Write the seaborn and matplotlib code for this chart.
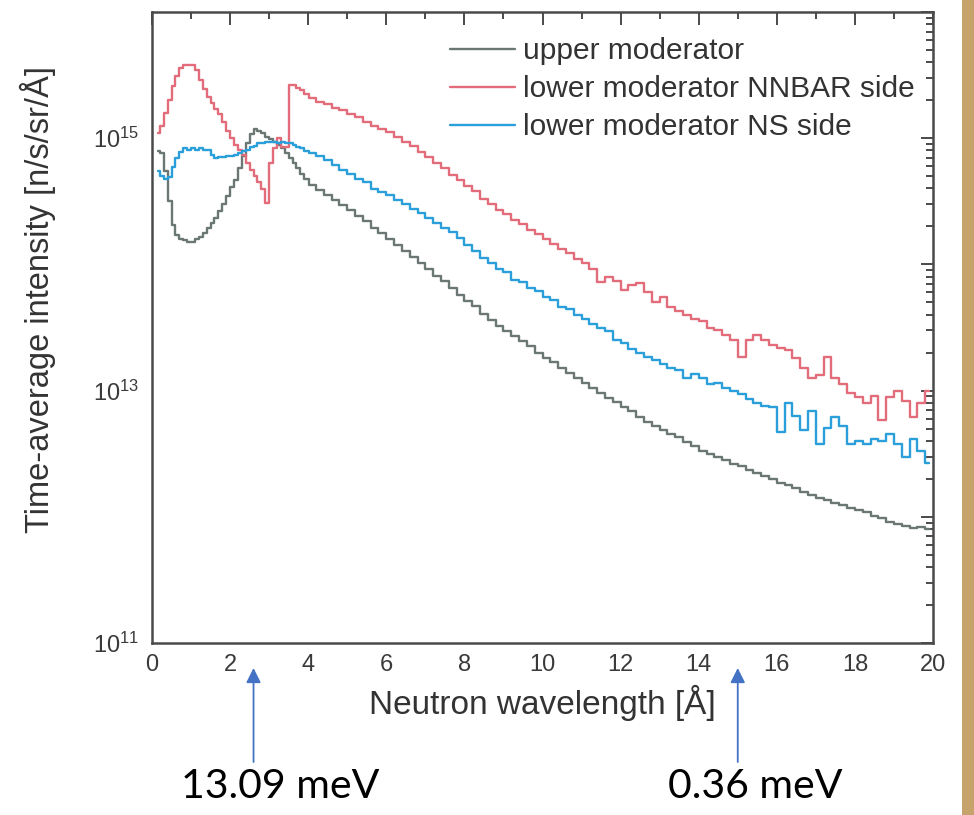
import numpy as np
import pandas as pd
import matplotlib
matplotlib.use("Agg")
import matplotlib.pyplot as plt
import matplotlib.ticker as mticker
from matplotlib.patches import Rectangle
import seaborn as sns

# ---------------- data (log10 of intensity) ----------------
wavelength = [0.15, 0.25, 0.35, 0.45, 0.55, 0.65, 0.75, 0.85, 0.95, 1.05,
              1.15, 1.25, 1.35, 1.45, 1.55, 1.65, 1.75, 1.85, 1.95, 2.05,
              2.15, 2.25, 2.35, 2.45, 2.55, 2.65, 2.75, 2.85, 2.95, 3.05,
              3.15, 3.25, 3.35, 3.45, 3.55, 3.65, 3.75, 3.85, 3.95,
              4.1, 4.3, 4.5, 4.7, 4.9, 5.1, 5.3, 5.5, 5.7, 5.9,
              6.1, 6.3, 6.5, 6.7, 6.9, 7.1, 7.3, 7.5, 7.7, 7.9,
              8.1, 8.3, 8.5, 8.7, 8.9, 9.1, 9.3, 9.5, 9.7, 9.9,
              10.1, 10.3, 10.5, 10.7, 10.9, 11.1, 11.3, 11.5, 11.7, 11.9,
              12.1, 12.3, 12.5, 12.7, 12.9, 13.1, 13.3, 13.5, 13.7, 13.9,
              14.1, 14.3, 14.5, 14.7, 14.9, 15.1, 15.3, 15.5, 15.7, 15.9,
              16.1, 16.3, 16.5, 16.7, 16.9, 17.1, 17.3, 17.5, 17.7, 17.9,
              18.1, 18.3, 18.5, 18.7, 18.9, 19.1, 19.3, 19.5, 19.7, 19.9]

upper_log = [14.90, 14.88, 14.74, 14.50, 14.31, 14.23, 14.20, 14.19, 14.18, 14.18,
             14.20, 14.22, 14.25, 14.29, 14.33, 14.37, 14.42, 14.48, 14.54, 14.61,
             14.67, 14.76, 14.86, 14.96, 15.03, 15.07, 15.06, 15.04, 15.01, 14.99,
             14.97, 14.95, 14.92, 14.88, 14.84, 14.80, 14.76, 14.72, 14.68,
             14.63, 14.59, 14.55, 14.51, 14.47, 14.43, 14.38, 14.34, 14.29, 14.25,
             14.20, 14.15, 14.11, 14.06, 14.01, 13.96, 13.91, 13.87, 13.81, 13.76,
             13.71, 13.67, 13.61, 13.56, 13.51, 13.47, 13.43, 13.39, 13.35, 13.30,
             13.26, 13.23, 13.18, 13.14, 13.10, 13.06, 13.02, 12.98, 12.94, 12.91,
             12.87, 12.84, 12.79, 12.75, 12.72, 12.69, 12.66, 12.63, 12.59, 12.56,
             12.52, 12.50, 12.47, 12.45, 12.42, 12.40, 12.37, 12.35, 12.32, 12.30,
             12.27, 12.25, 12.23, 12.20, 12.17, 12.15, 12.13, 12.11, 12.09, 12.07,
             12.05, 12.04, 12.01, 11.99, 11.96, 11.94, 11.93, 11.91, 11.92, 11.90]

nnbar_log = [15.04, 15.10, 15.20, 15.30, 15.41, 15.49, 15.56, 15.58, 15.58, 15.58,
             15.54, 15.46, 15.39, 15.33, 15.28, 15.23, 15.19, 15.13, 15.06, 15.00,
             14.95, 14.91, 14.87, 14.80, 14.75, 14.70, 14.65, 14.60, 14.49, 14.80,
             14.92, 15.00, 14.93, 14.93, 15.42, 15.42, 15.40, 15.38, 15.35,
             15.32, 15.29, 15.27, 15.24, 15.22, 15.19, 15.17, 15.13, 15.10, 15.07,
             15.05, 15.01, 14.97, 14.94, 14.89, 14.85, 14.80, 14.76, 14.71, 14.67,
             14.62, 14.58, 14.52, 14.48, 14.43, 14.40, 14.35, 14.32, 14.27, 14.24,
             14.20, 14.16, 14.12, 14.09, 14.04, 14.01, 13.96, 13.86, 13.90, 13.87,
             13.80, 13.84, 13.85, 13.78, 13.70, 13.74, 13.66, 13.63, 13.60, 13.57,
             13.55, 13.50, 13.48, 13.44, 13.40, 13.27, 13.40, 13.44, 13.40, 13.36,
             13.34, 13.32, 13.26, 13.18, 13.10, 13.12, 13.27, 13.10, 13.05, 12.98,
             12.95, 12.90, 12.96, 12.77, 12.95, 13.00, 12.92, 12.79, 12.90, 13.00]

ns_log = [14.74, 14.70, 14.68, 14.69, 14.77, 14.84, 14.89, 14.92, 14.91, 14.92,
          14.91, 14.92, 14.91, 14.91, 14.87, 14.84, 14.85, 14.85, 14.86, 14.86,
          14.87, 14.88, 14.90, 14.91, 14.93, 14.94, 14.96, 14.96, 14.97, 14.97,
          14.97, 14.96, 14.97, 14.96, 14.96, 14.95, 14.93, 14.92, 14.90,
          14.88, 14.86, 14.83, 14.79, 14.75, 14.72, 14.68, 14.65, 14.60, 14.57,
          14.55, 14.51, 14.48, 14.44, 14.41, 14.37, 14.33, 14.29, 14.26, 14.21,
          14.15, 14.11, 14.05, 14.01, 13.96, 13.94, 13.88, 13.86, 13.81, 13.79,
          13.74, 13.72, 13.66, 13.65, 13.60, 13.57, 13.53, 13.50, 13.47, 13.40,
          13.38, 13.33, 13.30, 13.27, 13.24, 13.21, 13.18, 13.16, 13.10, 13.13,
          13.10, 13.05, 13.06, 13.02, 13.00, 12.97, 12.93, 12.90, 12.88, 12.87,
          12.67, 12.90, 12.80, 12.69, 12.84, 12.58, 12.70, 12.79, 12.72, 12.58,
          12.60, 12.58, 12.62, 12.60, 12.66, 12.58, 12.47, 12.62, 12.52, 12.43]

series_names = ["upper moderator", "lower moderator NNBAR side", "lower moderator NS side"]
series_colors = ["#6a7774", "#e26c7a", "#2b9fd9"]

x_ticks = [0, 2, 4, 6, 8, 10, 12, 14, 16, 18, 20]
annot_x = [2.6, 15.0]
annot_text = ["13.09 meV", "0.36 meV"]

# ---------------- build table ----------------
frames = []
for name, vals in zip(series_names, [upper_log, nnbar_log, ns_log]):
    frames.append(pd.DataFrame({"wavelength": wavelength,
                                "intensity": np.power(10.0, np.array(vals)),
                                "series": name}))
df = pd.concat(frames, ignore_index=True)

# ---------------- figure ----------------
sns.set_theme(style="white")
plt.rcParams["font.family"] = ["Liberation Sans", "DejaVu Sans"]
plt.rcParams["mathtext.fontset"] = "custom"
plt.rcParams["mathtext.rm"] = "Liberation Sans"

W, H = 974, 815
fig = plt.figure(figsize=(W / 100, H / 100), dpi=100)
fig.patch.set_facecolor("white")
ax = fig.add_axes([152 / W, (H - 643) / H, (933 - 152) / W, (643 - 12) / H])

sns.lineplot(data=df, x="wavelength", y="intensity", hue="series",
             hue_order=series_names, palette=dict(zip(series_names, series_colors)),
             estimator=None, sort=False, drawstyle="steps-mid", linewidth=1.7,
             ax=ax)

ax.set_yscale("log")
ax.set_xlim(0, 20)
ax.set_ylim(1e11, 1e16)

ax.xaxis.set_major_locator(mticker.FixedLocator(x_ticks))
ax.xaxis.set_minor_locator(mticker.MultipleLocator(1))
ax.yaxis.set_major_locator(mticker.LogLocator(base=10, numticks=20))
ax.yaxis.set_minor_locator(mticker.LogLocator(base=10, subs=np.arange(2, 10), numticks=20))


def yfmt(v, pos):
    e = int(round(np.log10(v)))
    if e % 2 == 1:
        return r"$\mathregular{10^{%d}}$" % e
    return ""


ax.yaxis.set_major_formatter(mticker.FuncFormatter(yfmt))
ax.yaxis.set_minor_formatter(mticker.NullFormatter())

tick_col = "#3a3a3a"
ax.tick_params(which="both", direction="in", top=True, right=True,
               color="#4a4a4a", width=1.4)
ax.tick_params(which="major", length=9)
ax.tick_params(which="minor", length=5)
ax.tick_params(axis="x", which="major", labelsize=17, pad=8, labelcolor=tick_col)
ax.tick_params(axis="y", which="major", labelsize=17, pad=9, labelcolor=tick_col)
for s in ax.spines.values():
    s.set_color("#4a4a4a")
    s.set_linewidth(1.8)

ax.set_xlabel("Neutron wavelength [Å]", fontsize=24, color="#333333", labelpad=6)
ax.set_ylabel("Time-average intensity [n/s/sr/Å]", fontsize=23.5, color="#333333")
ax.yaxis.set_label_coords(-0.123, 0.545)

sns.move_legend(ax, "upper left", bbox_to_anchor=((450 - 152) / 781, (643 - 37) / 631),
                frameon=False, title=None, fontsize=21.5, handlelength=2.17,
                handletextpad=0.27, labelspacing=0.34, borderpad=0, borderaxespad=0,
                labelcolor="#333333")
for ln in ax.get_legend().get_lines():
    ln.set_linewidth(1.7)

# annotation arrows below the axis
for xv, txt, tx in zip(annot_x, annot_text, [280, 755]):
    ax.annotate("", xy=(xv, H - 668), xytext=(xv, H - 762),
                xycoords=("data", "figure pixels"), textcoords=("data", "figure pixels"),
                arrowprops=dict(arrowstyle="-|>", color="#4472c4", lw=1.3,
                                mutation_scale=22, shrinkA=0, shrinkB=0),
                annotation_clip=False)
    fig.text(tx / W, (H - 786) / H, txt, ha="center", va="center",
             fontsize=29.5, family=["Lato", "DejaVu Sans"], color="black")

# slide background strip on the right
fig.patches.append(Rectangle((962 / W, 0), 12 / W, 1, transform=fig.transFigure,
                             facecolor="#c6a36b", edgecolor="none", zorder=-1))

fig.savefig("out.png", dpi=100)
